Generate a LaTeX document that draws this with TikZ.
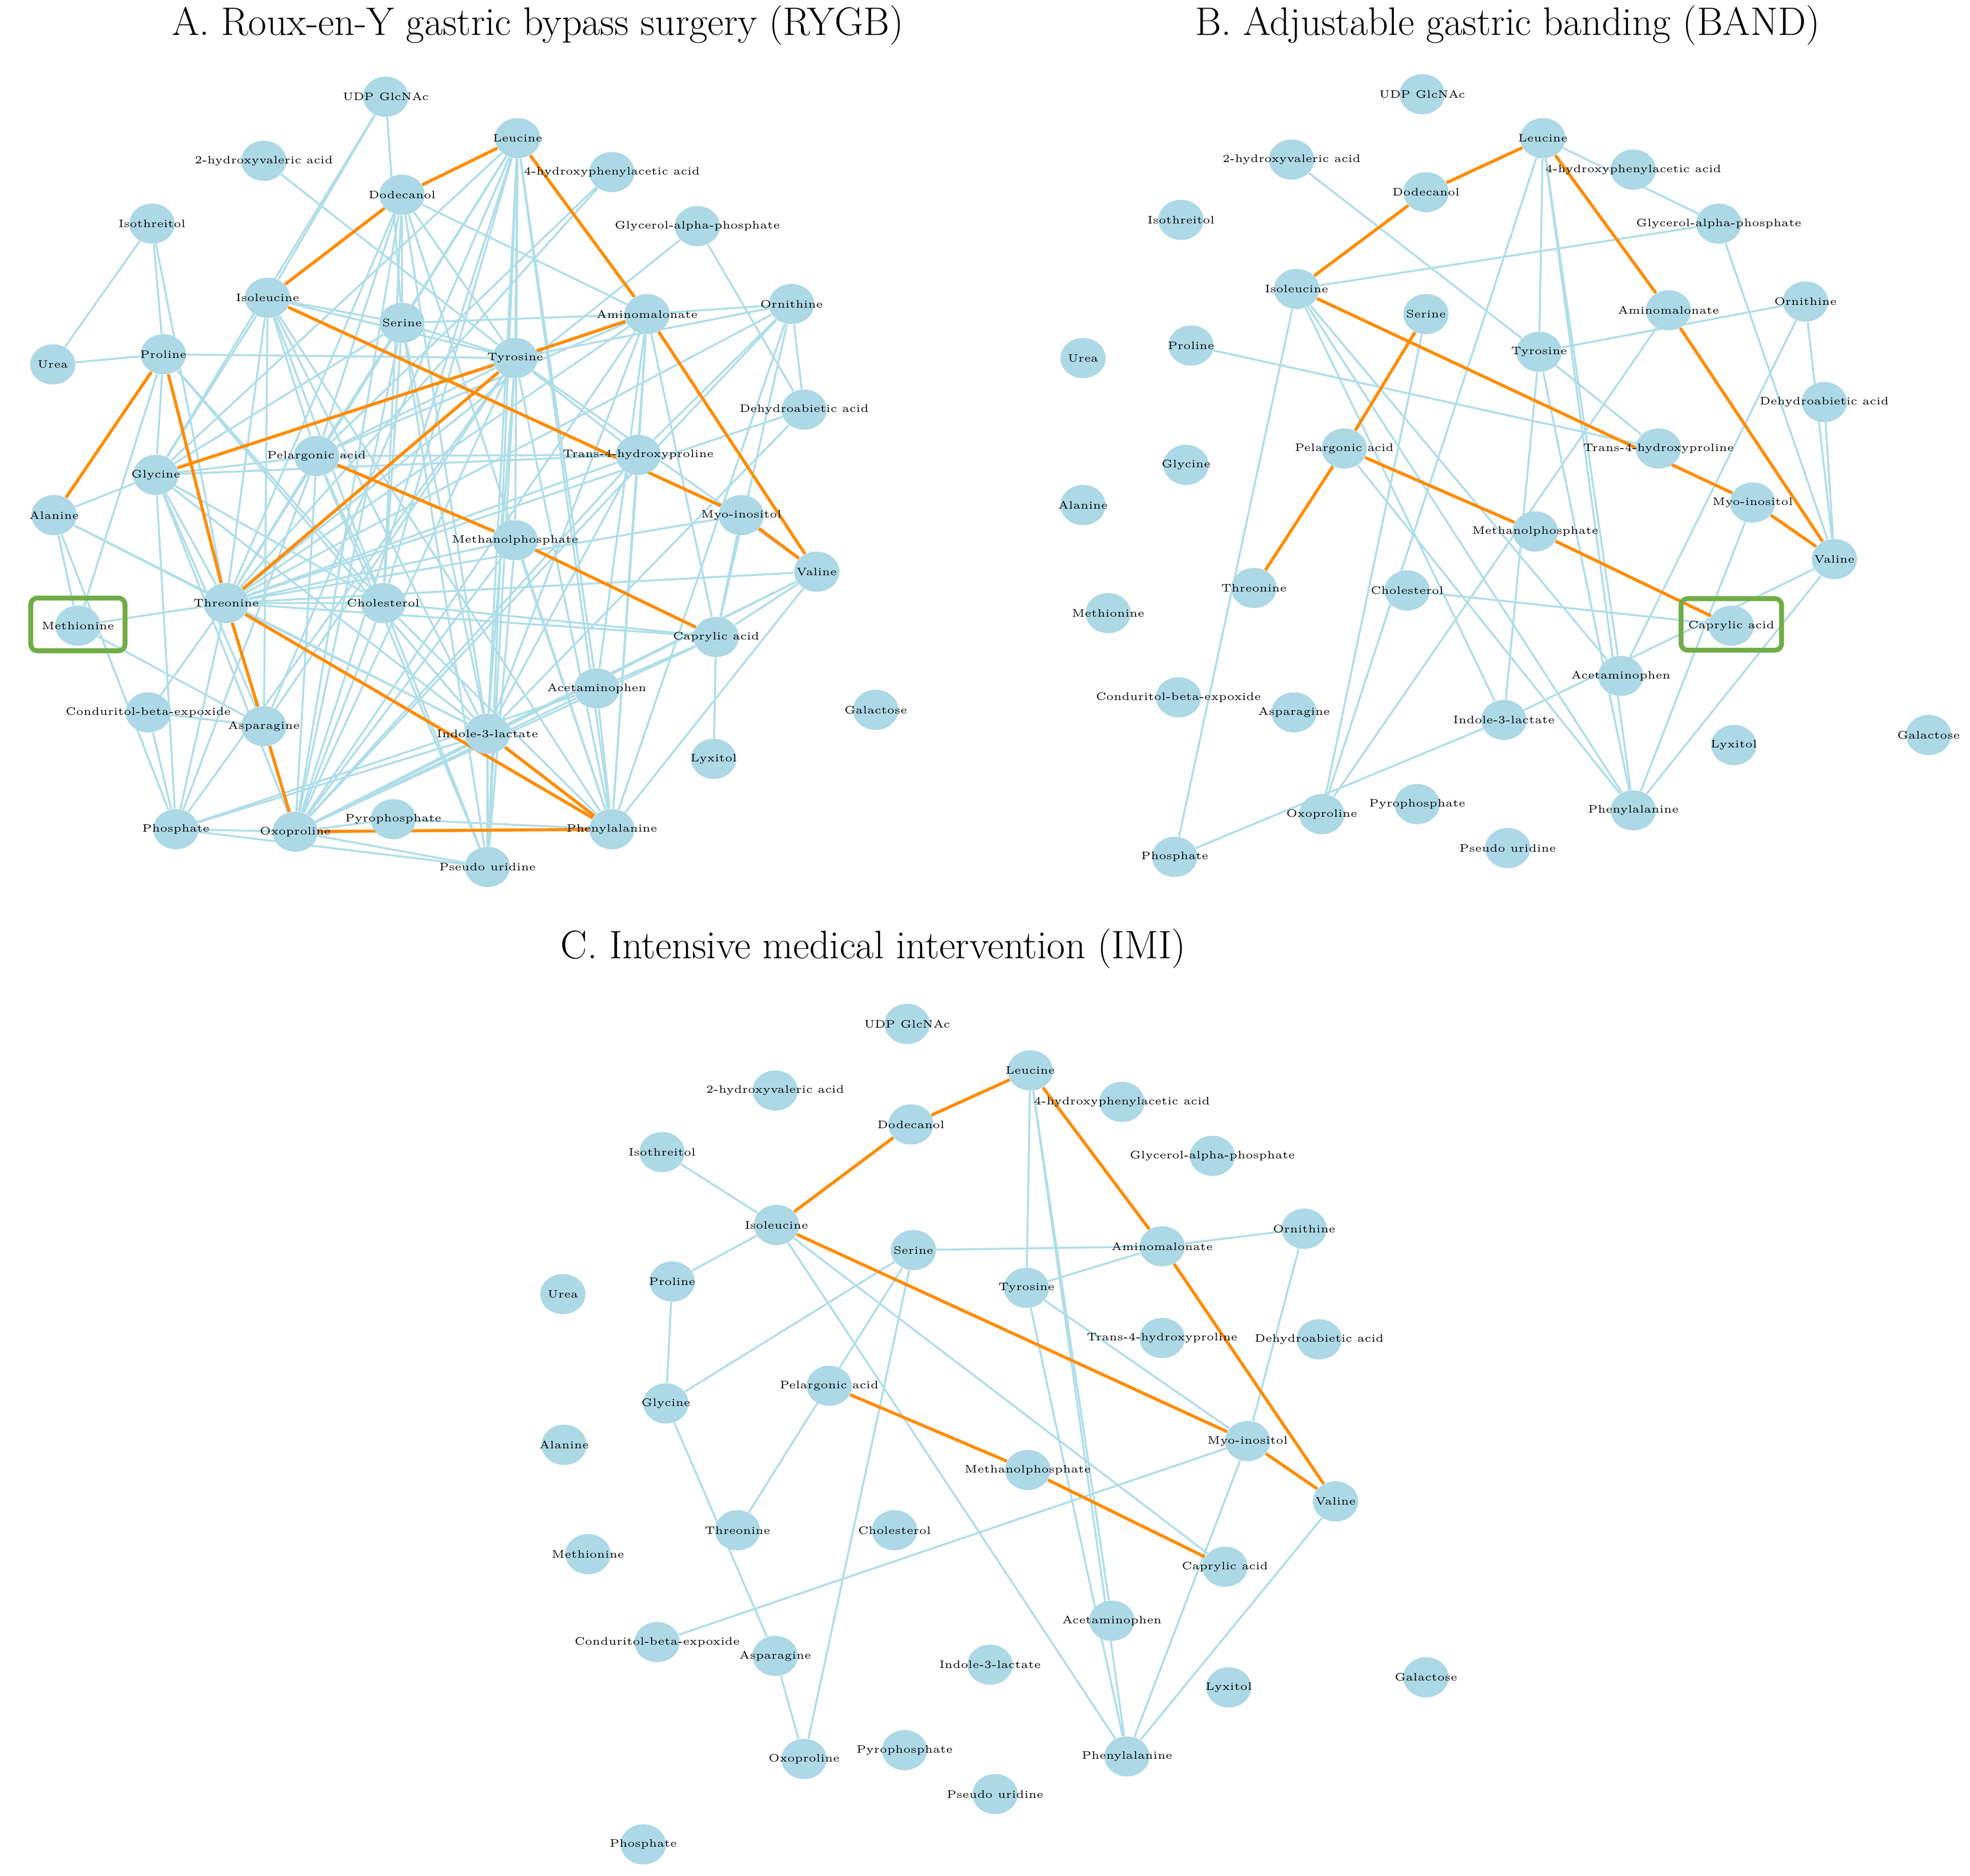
\documentclass[tikz,border=0pt]{standalone}
\usetikzlibrary{backgrounds,shapes.geometric}
\definecolor{nodeblue}{RGB}{173,216,230}
\definecolor{edgeblue}{RGB}{176,222,232}
\definecolor{edgeorange}{RGB}{255,140,0}
\definecolor{boxgreen}{RGB}{112,173,71}
\begin{document}
\begin{tikzpicture}[x=0.02cm,y=-0.02cm,
  nd/.style={ellipse,fill=nodeblue,minimum width=0.72cm,minimum height=0.64cm,inner sep=0pt},
  lb/.style={font=\fontsize{4.9}{5}\selectfont,inner sep=0pt},
  be/.style={draw=edgeblue,line width=0.9pt},
  oe/.style={draw=edgeorange,line width=1.4pt},
  gb/.style={draw=boxgreen,line width=2.2pt,rounded corners=3pt},
  ttl/.style={font=\fontsize{18}{20}\selectfont}]
\path[use as bounding box] (0,0) rectangle (1568,1493);
\node[ttl] (tA) at (428,20) {A. Roux-en-Y gastric bypass surgery (RYGB)};
\node[ttl] (tB) at (1200,20) {B. Adjustable gastric banding (BAND)};
\node[ttl] (tC) at (695,755) {C. Intensive medical intervention (IMI)};
% Panel A nodes
\foreach \n/\x/\y/\t in {udp/307/77/UDP GlcNAc,hva/210/128/2-hydroxyvaleric acid,leu/412/110/Leucine,hpa/487/137/4-hydroxyphenylacetic acid,dod/320/155/Dodecanol,ist/121/178/Isothreitol,gap/555/180/Glycerol-alpha-phosphate,ile/213/237/Isoleucine,ser/320/257/Serine,ami/515/250/Aminomalonate,orn/630/242/Ornithine,ure/42/290/Urea,pro/130/282/Proline,tyr/410/285/Tyrosine,dha/640/326/Dehydroabietic acid,gly/124/378/Glycine,pel/252/363/Pelargonic acid,t4h/508/362/Trans-4-hydroxyproline,ala/43/410/Alanine,myo/590/410/Myo-inositol,mep/410/430/Methanolphosphate,val/650/455/Valine,met/62/498/Methionine,thr/180/480/Threonine,cho/305/480/Cholesterol,cap/570/507/Caprylic acid,ace/475/548/Acetaminophen,gal/697/565/Galactose,con/118/567/Conduritol-beta-expoxide,asn/210/578/Asparagine,ind/388/584/Indole-3-lactate,lyx/568/604/Lyxitol,pho/140/660/Phosphate,oxo/235/662/Oxoproline,pyr/313/652/Pyrophosphate,phe/487/660/Phenylalanine,psu/388/690/Pseudo uridine}
  {\node[nd,label={[lb]center:\t}] (A-\n) at (\x,\y) {};}
% Panel B nodes
\foreach \n/\x/\y/\t in {udp/1132/75/UDP GlcNAc,hva/1028/127/2-hydroxyvaleric acid,leu/1228/110/Leucine,hpa/1300/135/4-hydroxyphenylacetic acid,dod/1135/153/Dodecanol,ist/940/175/Isothreitol,gap/1368/178/Glycerol-alpha-phosphate,ile/1032/230/Isoleucine,ser/1135/250/Serine,ami/1328/247/Aminomalonate,orn/1437/240/Ornithine,ure/862/285/Urea,pro/948/275/Proline,tyr/1225/280/Tyrosine,dha/1452/320/Dehydroabietic acid,gly/944/370/Glycine,pel/1070/357/Pelargonic acid,t4h/1320/357/Trans-4-hydroxyproline,ala/862/402/Alanine,myo/1395/400/Myo-inositol,mep/1222/423/Methanolphosphate,val/1460/445/Valine,thr/998/468/Threonine,cho/1120/470/Cholesterol,met/882/488/Methionine,cap/1378/498/Caprylic acid,ace/1290/538/Acetaminophen,con/938/555/Conduritol-beta-expoxide,asn/1030/567/Asparagine,ind/1197/573/Indole-3-lactate,lyx/1380/593/Lyxitol,gal/1535/585/Galactose,oxo/1052/648/Oxoproline,pyr/1128/640/Pyrophosphate,phe/1300/645/Phenylalanine,pho/935/682/Phosphate,psu/1200/675/Pseudo uridine}
  {\node[nd,label={[lb]center:\t}] (B-\n) at (\x,\y) {};}
% Panel C nodes
\foreach \n/\x/\y/\t in {udp/722/815/UDP GlcNAc,hva/617/868/2-hydroxyvaleric acid,leu/820/852/Leucine,hpa/893/877/4-hydroxyphenylacetic acid,dod/725/895/Dodecanol,ist/527/917/Isothreitol,gap/965/920/Glycerol-alpha-phosphate,ile/618/975/Isoleucine,ser/727/995/Serine,ami/925/992/Aminomalonate,orn/1038/978/Ornithine,ure/448/1030/Urea,pro/535/1020/Proline,tyr/817/1025/Tyrosine,t4h/925/1065/Trans-4-hydroxyproline,dha/1050/1066/Dehydroabietic acid,gly/530/1117/Glycine,pel/660/1103/Pelargonic acid,ala/449/1150/Alanine,myo/993/1147/Myo-inositol,mep/818/1170/Methanolphosphate,val/1063/1195/Valine,thr/587/1218/Threonine,cho/712/1218/Cholesterol,met/468/1237/Methionine,cap/975/1247/Caprylic acid,ace/885/1290/Acetaminophen,con/523/1307/Conduritol-beta-expoxide,asn/617/1318/Asparagine,ind/788/1325/Indole-3-lactate,lyx/978/1343/Lyxitol,gal/1135/1335/Galactose,oxo/640/1400/Oxoproline,pyr/720/1393/Pyrophosphate,phe/897/1398/Phenylalanine,psu/792/1428/Pseudo uridine,pho/512/1468/Phosphate}
  {\node[nd,label={[lb]center:\t}] (C-\n) at (\x,\y) {};}
\begin{scope}[on background layer]
% Panel A edges
\foreach \a/\b in {udp/ile,udp/gly,udp/ser,hva/tyr,leu/ser,leu/tyr,leu/pel,leu/thr,leu/cho,leu/ind,leu/psu,leu/phe,leu/mep,leu/oxo,leu/asn,leu/ace,leu/gly,hpa/pel,hpa/thr,dod/ser,dod/tyr,dod/pel,dod/thr,dod/oxo,dod/ind,dod/cho,dod/ami,dod/phe,ist/ure,ist/pro,ist/thr,gap/dha,gap/thr,ile/ser,ile/tyr,ile/gly,ile/pel,ile/thr,ile/asn,ile/cho,ile/ind,ile/phe,ser/ami,ser/tyr,ser/gly,ser/thr,ser/oxo,ser/ind,ser/cho,ser/psu,ami/orn,ami/gly,ami/pel,ami/thr,ami/oxo,ami/ind,ami/phe,ami/ace,ami/cap,ami/t4h,orn/tyr,orn/t4h,orn/thr,orn/dha,orn/oxo,orn/phe,orn/cap,ure/pro,pro/tyr,pro/gly,pro/met,pro/cho,pro/ind,tyr/pel,tyr/t4h,tyr/ind,tyr/oxo,tyr/phe,tyr/psu,tyr/asn,tyr/pho,tyr/val,dha/thr,dha/ind,gly/ala,gly/thr,gly/pho,gly/cho,gly/asn,gly/ind,gly/oxo,gly/t4h,gly/pel,pel/thr,pel/oxo,pel/pho,pel/cho,pel/psu,pel/t4h,t4h/thr,t4h/oxo,t4h/phe,t4h/ind,ala/thr,ala/met,ala/pho,ala/ind,myo/cap,myo/thr,mep/thr,mep/oxo,mep/phe,mep/psu,val/thr,val/cap,val/ind,val/phe,val/oxo,thr/met,thr/cho,thr/cap,thr/con,thr/oxo,thr/pho,thr/ind,cho/cap,cho/phe,cho/oxo,cho/psu,cap/ace,cap/oxo,cap/lyx,ace/oxo,ace/phe,ace/pho,ind/oxo,ind/psu,ind/pho,pho/oxo,pho/con,pho/psu,oxo/pyr,oxo/psu,pyr/phe,met/asn,con/asn}
  {\draw[be] (A-\a) -- (A-\b);}
\foreach \a/\b in {leu/dod,dod/ile,leu/ami,ami/val,ile/myo,myo/val,ami/tyr,tyr/gly,tyr/thr,pro/ala,pro/thr,thr/asn,asn/oxo,thr/phe,ind/phe,oxo/phe,pel/mep,mep/cap}
  {\draw[oe] (A-\a) -- (A-\b);}
% Panel B edges
\foreach \a/\b in {hva/tyr,leu/tyr,leu/phe,leu/ace,leu/gap,leu/oxo,ile/gap,ile/pho,ile/ind,ile/phe,ile/ace,pro/t4h,tyr/orn,tyr/t4h,tyr/ind,tyr/phe,orn/val,orn/ace,dha/val,gap/val,val/ind,val/phe,cho/cap,ser/oxo,ami/oxo,pho/ind,pel/phe,myo/phe}
  {\draw[be] (B-\a) -- (B-\b);}
\foreach \a/\b in {leu/dod,dod/ile,leu/ami,ami/val,ile/myo,myo/val,ser/pel,pel/thr,pel/mep,mep/cap}
  {\draw[oe] (B-\a) -- (B-\b);}
% Panel C edges
\foreach \a/\b in {ist/ile,ile/pro,pro/gly,gly/ser,gly/asn,asn/oxo,ser/oxo,ser/ami,ser/thr,ami/orn,tyr/ami,leu/tyr,leu/ace,leu/phe,tyr/phe,tyr/myo,ile/phe,ile/cap,orn/myo,myo/con,myo/phe,val/phe}
  {\draw[be] (C-\a) -- (C-\b);}
\foreach \a/\b in {leu/dod,dod/ile,leu/ami,ami/val,ile/myo,myo/val,pel/mep,mep/cap}
  {\draw[oe] (C-\a) -- (C-\b);}
\end{scope}
\node[gb,minimum width=1.5cm,minimum height=0.84cm] (boxA) at (62,497) {};
\node[gb,minimum width=1.6cm,minimum height=0.82cm] (boxB) at (1378,497) {};
\end{tikzpicture}
\end{document}
